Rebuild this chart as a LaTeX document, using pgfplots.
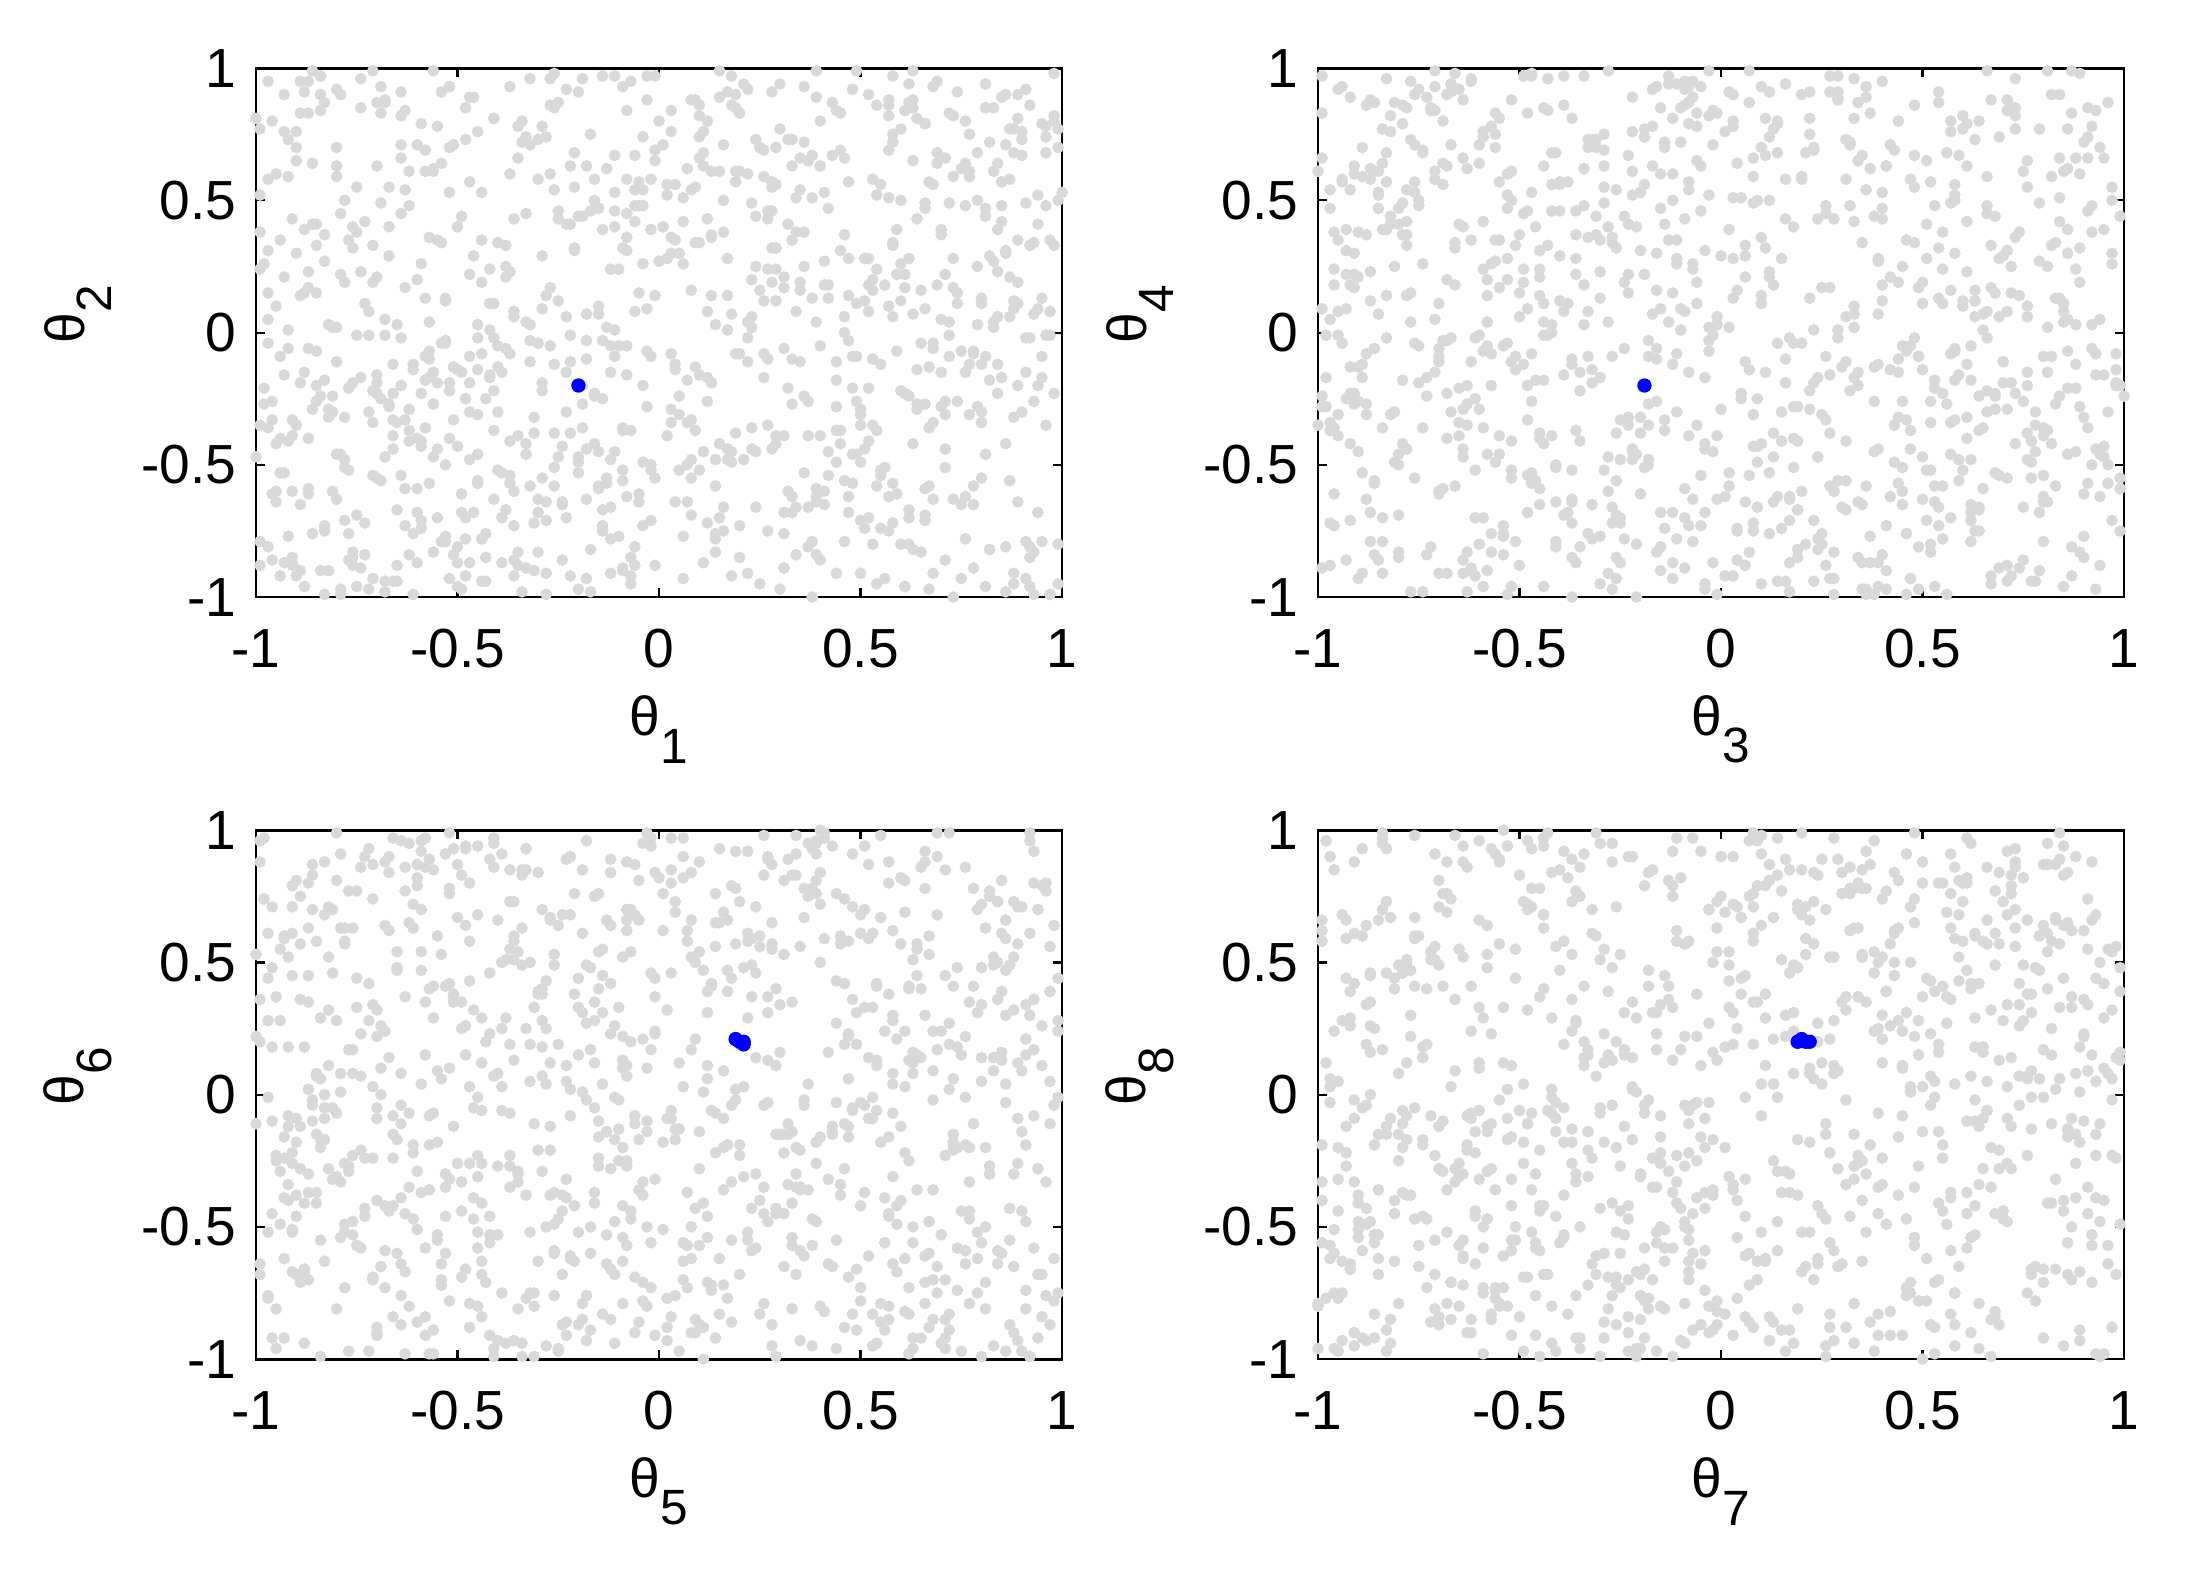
\documentclass[border=0pt]{standalone}
\usepackage{fontspec}
\setmainfont{Liberation Sans}
\usepackage{pgfplots}
\usepackage{pgfplotstable}
\pgfplotsset{compat=1.18}

% prior samples, values in hundredths (axis runs -100..100 = -1..1)
\pgfplotstableread{
a b c d e f g h
-83 41 7 -56 62 -18 27 -73
12 -95 63 28 -44 85 -60 8
57 3 -38 -71 19 -67 84 51
-26 76 -90 44 -91 30 -15 -38
91 -17 22 -5 48 -2 46 92
-64 -48 81 67 -13 94 -92 -20
35 88 -13 -99 77 -55 9 66
-9 -62 49 15 -70 11 -41 -89
73 25 -77 -33 4 -86 70 17
-45 59 -2 86 31 58 -7 -56
4 -30 -58 -87 -59 -36 58 35
-97 14 36 52 90 72 -83 -4
66 -79 95 -19 -27 -9 22 79
-18 50 -44 9 55 -78 -49 -63
29 -7 70 -62 -84 39 95 24
-72 93 -25 38 13 -47 -26 -97
81 -53 11 -40 -5 63 12 47
-36 31 -84 79 68 -24 -68 6
50 -88 58 2 -39 97 39 -31
-3 67 -68 -27 86 5 -97 88
18 -22 -96 61 -96 -61 63 -45
-58 84 27 -12 24 43 -12 13
95 -41 -9 33 -62 -90 81 -79
-80 8 52 -76 40 18 -55 59
44 70 -31 94 -20 -32 5 -11
-21 -66 88 -48 73 77 -33 32
62 19 -63 20 -8 -73 90 -67
-11 -99 6 -84 97 26 -79 97
37 45 -50 71 -51 -14 31 -26
-90 -14 79 -3 9 50 -3 70
7 96 -17 -59 -74 -98 74 -50
-49 -35 43 26 59 67 -88 -15
85 61 -72 -91 -33 8 17 42
-30 -80 15 57 82 -42 -46 -83
23 2 -87 -22 -1 83 52 2
-67 48 64 -65 -88 -27 -21 55
56 -26 -40 89 35 34 98 -93
-8 73 93 -37 -57 -83 -63 36
78 -57 -6 10 66 48 36 -8
-41 22 31 -70 -16 -6 -11 81
-99 -6 -53 48 92 -50 67 -35
14 55 74 -14 -67 91 -74 -58
69 -92 -29 65 16 -19 1 18
-53 37 2 -95 -42 56 -39 -77
33 -68 -78 34 51 -71 87 63
-16 10 59 -52 -93 22 -52 -42
89 82 -22 0 27 -38 29 90
-75 -44 99 77 -31 70 -94 -1
41 28 -65 -29 78 -94 55 -60
-2 -83 17 53 -10 1 -18 39
60 66 -91 -8 45 -60 79 -22
-33 -19 46 91 -79 37 -36 74
97 -1 -34 -45 3 80 14 -99
-62 92 80 19 61 -12 -85 48
26 -73 -11 -78 -48 46 42 -17
-87 40 37 62 87 -81 -5 95
5 -37 -97 -16 -23 15 93 -52
-47 78 24 36 38 -45 -58 -30
83 -10 -56 -96 -86 61 24 85
-23 -59 68 23 20 -4 -71 -70
47 15 -80 75 -65 92 61 28
-92 -86 3 -60 71 -29 -29 -6
19 52 89 -9 -37 -64 8 57
-56 -28 -46 46 6 29 -99 -47
74 85 12 -34 -98 -17 48 11
-6 -50 -70 8 54 87 -43 -88
38 11 55 -82 -29 -52 76 67
-81 64 -15 98 33 10 -14 -24
63 -71 41 -43 -76 53 33 99
-28 34 -99 30 94 -88 -66 -64
1 -46 29 -73 11 32 89 40
-70 98 -61 55 -54 -76 -23 -19
90 -32 84 -1 69 6 3 73
-38 6 -20 -54 -4 -97 -77 33
52 77 -85 82 -82 41 59 -41
-14 -96 50 -25 43 -35 -33 -73
31 42 -4 13 -19 74 18 21
-95 -12 67 -89 83 -58 -91 60
68 -64 -42 42 -45 24 71 -91
-51 26 18 -11 1 -92 -8 -33
10 -79 76 66 -69 64 45 86
-85 58 -37 -47 57 -8 -57 -7
54 -3 -92 27 -35 -41 97 52
-43 90 9 -67 29 88 -30 -85
79 -42 61 50 -91 -23 11 3
-19 -24 -75 -93 76 55 -86 44
42 69 33 4 -12 -68 64 -54
-66 -89 -27 72 49 17 -19 -12
87 13 96 -36 -60 -1 37 77
-7 47 -59 17 14 79 -62 -37
-32 -69 44 -6 -81 -49 83 -3
96 21 -83 59 39 27 -48 68
-60 -15 20 -85 -26 -85 7 -68
24 81 -49 39 99 44 -96 25
-88 -52 71 -20 -47 -26 53 -96
15 36 -12 84 64 -66 -24 89
70 -98 -89 -57 -7 95 26 -28
-25 60 5 25 -95 -31 -80 12
49 -21 57 -74 23 69 68 -46
-78 97 -32 -2 -52 -11 -1 50
34 -54 -66 12 80 -39 91 -84
-61 7 90 -41 -22 76 -64 -14
77 -85 -19 68 -63 -20 15 61
-13 44 38 -97 5 51 -37 -57
58 -27 -71 -15 47 -93 60 34
-94 72 14 80 -34 3 -9 -92
21 -11 -45 -64 91 -57 40 94
-48 -93 62 35 -11 28 -87 -25
93 33 -8 -31 -72 84 73 7
-4 -56 -94 56 18 -40 -27 -49
45 87 26 -50 -87 12 6 83
-73 -37 -54 7 62 -79 -54 -72
8 63 85 -87 -40 57 88 16
-35 -8 -23 93 34 -15 -16 -39
86 -76 48 -26 -58 -46 32 71
-57 16 -86 63 7 99 -75 -10
28 91 3 -79 -97 -34 49 46
-89 -45 69 29 56 68 -2 -65
64 0 -60 -69 -25 -87 80 -29
-20 54 34 10 74 38 -95 91
99 -60 -3 -53 -3 -7 20 -80
-42 23 -79 47 -68 90 -44 1
16 -90 57 -6 42 -62 65 38
-68 71 -38 -82 -90 21 -31 -94
55 -19 97 73 28 -99 96 56
-10 -75 -16 -39 -15 47 -69 -5
71 39 -67 85 89 -28 4 -44
-84 -2 40 -18 -44 63 -50 84
39 94 -93 51 12 -53 41 -62
-29 -40 22 -92 -77 4 -13 29
82 58 73 22 60 82 75 -18
-54 -84 -48 -58 -9 -70 -90 64
11 17 10 69 95 -16 28 -87
-98 -63 -77 -9 -56 35 -59 -27
48 49 53 87 21 -80 99 -9
-17 -29 -89 -35 -83 14 -22 75
67 80 35 3 36 54 13 -36
-63 -97 -7 -72 -30 -95 -81 54
27 4 79 58 72 25 56 -75
-39 68 -55 -24 -64 -44 -6 -53
94 -48 16 91 -2 71 85 9
-1 29 -98 -44 53 -21 -42 97
59 -70 66 6 -93 9 21 -61
-77 86 -30 -63 17 -63 -98 -21
3 -16 92 40 -39 86 47 30
-50 53 -41 -100 81 -37 -35 -96
76 -34 1 32 -21 40 72 62
-24 95 -73 -4 -73 -84 -17 -43
43 -81 28 81 44 19 2 87
-86 12 -64 -27 -5 -54 -72 -76
13 -58 83 -74 85 61 69 14
-69 79 -26 18 -49 -12 -28 49
88 -23 -52 -95 10 93 92 -32
-31 41 8 62 -80 -69 -65 -90
53 -94 -85 -11 67 33 35 58
-93 27 47 44 -18 -3 -10 -16
36 -5 -33 -83 -99 -89 57 93
-15 65 76 28 32 48 -83 -59
72 -44 -14 -49 -61 -25 19 4
-52 -68 60 95 79 77 -47 -40
25 10 -81 -3 -28 -60 82 70
-76 89 25 -57 4 16 -20 -83
61 -36 -100 16 50 -47 43 22
-12 -18 39 -90 -92 89 -93 -48
98 57 -47 60 26 -9 10 80
-46 -87 94 -20 -53 52 -61 -68
9 30 -10 86 90 -77 77 -13
-83 -31 -63 -45 -14 -33 -38 37
40 75 18 37 65 7 62 -86
-37 -53 -36 -76 -85 -86 -4 60
84 5 71 97 8 66 30 -23
-5 -77 -58 -33 -46 -18 -76 15
50 62 12 -67 40 43 94 -71
-91 -9 -28 52 -70 -91 -52 43
30 35 86 -16 58 30 16 -97
-59 -74 -69 74 -26 -56 -89 26
80 99 44 -52 93 84 50 -55
-27 -43 -18 9 -37 -10 -25 96
65 18 51 -88 15 -74 86 -4
-71 -65 -92 31 -89 59 -67 -34
6 84 63 -30 73 -42 23 51
-44 -11 -4 78 -7 26 -45 -78
92 -51 -75 -60 -59 -96 71 33
-22 70 32 -8 31 73 -15 -11
46 -99 -40 92 -81 -30 38 66
-79 38 80 -21 55 11 -100 -99
19 -26 -24 -78 -32 -65 54 -38
-64 -82 6 61 84 42 -32 82
75 46 -56 -42 -16 -83 0 -7
-8 14 98 24 -66 98 -78 -62
57 -64 -8 -64 45 -5 66 88
-96 52 -44 88 -95 35 -21 -26
32 -14 54 -13 2 -58 97 41
-36 87 -96 -86 64 80 -56 -92
89 -38 29 45 -42 -39 25 11
-55 3 -52 -47 22 -22 -8 78
17 76 67 14 -76 57 80 -48
-87 -55 -2 -84 97 -71 -70 17
63 24 41 68 -34 18 44 -82
-18 -91 -79 -1 -55 -46 -39 63
4 42 -13 54 86 62 13 -14
-66 -22 75 -61 -12 -93 -92 -44
81 73 -37 20 61 23 59 85
-41 -67 19 -91 -88 -8 -27 -2
37 9 -88 83 27 91 34 -66
-99 55 56 -37 -41 -51 -12 24
22 -84 -23 3 76 6 90 -91
-32 32 90 -70 -23 67 -60 71
96 -18 -62 39 -64 -29 7 -35
-11 -47 31 -25 46 -76 -48 53
48 96 -75 92 -96 38 78 -57
-74 -30 4 -53 13 -64 -4 -17
15 66 72 8 -48 83 49 99
-53 -7 -47 -80 70 -19 -85 -79
70 -78 23 50 -29 49 19 37
-26 45 -91 -14 39 -87 -37 -51
58 -1 47 76 -78 14 65 6
-90 -59 -15 -68 88 -45 -23 76
33 83 82 33 -10 72 2 -27
-47 -36 -64 -5 -61 -2 -73 -87
87 20 7 -99 52 -34 83 58
-2 -70 -83 71 -86 87 -55 -9
52 51 58 -36 8 -72 28 28
-80 -88 -21 11 -45 31 -15 -63
28 29 39 -56 99 -59 70 91
-60 61 -70 85 -17 63 -96 -40
74 -50 91 -28 -71 -15 40 15
-14 8 -32 58 33 96 -33 -75
42 -97 -59 -77 -52 -41 95 47
-85 76 34 1 71 8 -62 -20
11 -41 -6 -44 -8 54 11 68
-68 17 62 93 -99 -24 -44 -98
97 -62 -49 -22 41 -97 61 35
-38 92 13 66 -27 36 -2 -6
62 -25 -87 -8 58 -6 87 -70
-20 38 99 -51 -84 77 -79 44
78 -9 -17 89 19 -82 32 -89
-58 -52 53 -32 -58 20 -19 61
5 100 -71 40 80 -54 53 -24
-93 -76 27 -97 -36 46 -88 90
46 31 -42 27 24 -17 17 -56
-29 -15 68 -66 -94 93 -58 9
86 -92 -9 63 65 -36 73 -42
-50 49 -80 -18 -3 2 -9 -81
24 -33 88 -49 -68 -91 45 73
-81 66 -35 17 91 66 -71 -30
68 -69 14 -71 -22 -48 93 56
-5 80 -54 96 48 34 -30 -64
35 -6 46 -39 -87 -79 8 19
-72 -95 -97 53 16 58 -64 -1
91 28 2 -94 -53 28 57 -93
-35 -57 78 33 35 -65 -17 78
54 64 -26 -12 -15 85 81 -37
-97 -20 49 77 75 -26 -49 31
20 54 -68 -59 -43 -1 24 -73
-63 -43 -1 23 6 -88 -94 84
77 88 60 -83 -75 50 68 -12
-16 -12 -39 47 57 -70 -5 50
39 -86 95 -23 -30 13 41 -84
-76 23 -57 -74 96 -57 -36 -19
13 -71 22 81 -9 92 99 61
-45 86 -90 -41 -63 -35 -81 -46
83 -28 37 10 34 65 14 4
-9 36 -51 -89 -90 -13 -53 93
66 -45 84 57 86 39 76 -59
-87 12 -12 -16 -24 -78 -26 23
31 -65 -93 88 12 21 3 -39
-52 94 51 -48 -78 -44 -68 70
99 -4 -28 26 69 74 48 -95
-23 -80 73 -62 -37 -100 -11 41
44 19 -82 72 -1 3 85 -28
-94 -33 16 -4 54 -66 -42 -9
8 71 66 -91 -85 47 22 88
-40 -61 -45 36 25 -31 -99 -52
60 40 89 -29 -55 81 63 12
-30 -4 -11 98 82 -9 -20 -68
85 -55 -78 -55 -19 -51 35 57
-65 57 45 64 43 69 -75 -34
18 -47 -66 -7 -92 -23 89 97
-56 81 29 -80 63 12 -46 -15
}\samples

\newcommand{\lab}[1]{θ\raisebox{-5pt}{\fontsize{9}{9}\selectfont #1}}

\pgfplotsset{
  panel/.style={
    anchor=south west,
    scale only axis,
    width=146.3pt, height=96pt,
    xmin=-100, xmax=100, ymin=-100, ymax=100,
    xtick={-100,-50,0,50,100}, ytick={-100,-50,0,50,100},
    xticklabels={-1,-0.5,0,0.5,1}, yticklabels={-1,-0.5,0,0.5,1},
    tick align=inside,
    major tick length=1.6pt,
    tick style={black, line width=0.4pt},
    axis line style={black, line width=0.5pt},
    ticklabel style={font=\fontsize{10}{12}\selectfont},
    xticklabel style={yshift=-2.3pt},
    label style={font=\fontsize{10}{12}\selectfont},
    every axis x label/.style={at={(axis description cs:0.5,-0.25)}, anchor=center},
    every axis y label/.style={at={(axis description cs:-0.221,0.535)}, anchor=center, rotate=90},
    /pgf/number format/assume math mode=true,
  },
  prior/.style={only marks, mark=*, mark size=0.85pt, color=black!15},
  post/.style={only marks, mark=*, mark size=1.1pt, color=blue},
}

\begin{document}
\begin{tikzpicture}
\path[use as bounding box] (0,0) rectangle (400pt,285.67pt);

\begin{axis}[panel, at={(46.46pt,177.3pt)}, xlabel={\lab{1}}, ylabel={\lab{2}}]
\addplot[prior] table[x=a, y=h] {\samples};
\addplot[prior] table[x=b, y=g] {\samples};
\addplot[prior] table[x=c, y=f] {\samples};
\addplot[prior] table[x=d, y=e] {\samples};
\addplot[post] coordinates {(-20,-20)};
\end{axis}

\begin{axis}[panel, at={(239.2pt,177.3pt)}, xlabel={\lab{3}}, ylabel={\lab{4}}]
\addplot[prior] table[x=b, y=h] {\samples};
\addplot[prior] table[x=c, y=a] {\samples};
\addplot[prior] table[x=d, y=g] {\samples};
\addplot[prior] table[x=e, y=f] {\samples};
\addplot[post] coordinates {(-19,-20)};
\end{axis}

\begin{axis}[panel, at={(46.46pt,39.0pt)}, xlabel={\lab{5}}, ylabel={\lab{6}}]
\addplot[prior] table[x=c, y=h] {\samples};
\addplot[prior] table[x=d, y=b] {\samples};
\addplot[prior] table[x=e, y=a] {\samples};
\addplot[prior] table[x=f, y=g] {\samples};
\addplot[post] coordinates {(19,21) (20,20) (21,19) (21,20)};
\end{axis}

\begin{axis}[panel, at={(239.2pt,39.0pt)}, xlabel={\lab{7}}, ylabel={\lab{8}}]
\addplot[prior] table[x=d, y=h] {\samples};
\addplot[prior] table[x=e, y=c] {\samples};
\addplot[prior] table[x=f, y=b] {\samples};
\addplot[prior] table[x=g, y=a] {\samples};
\addplot[post] coordinates {(19,20) (21,20) (22,20) (20,21)};
\end{axis}
\end{tikzpicture}
\end{document}
